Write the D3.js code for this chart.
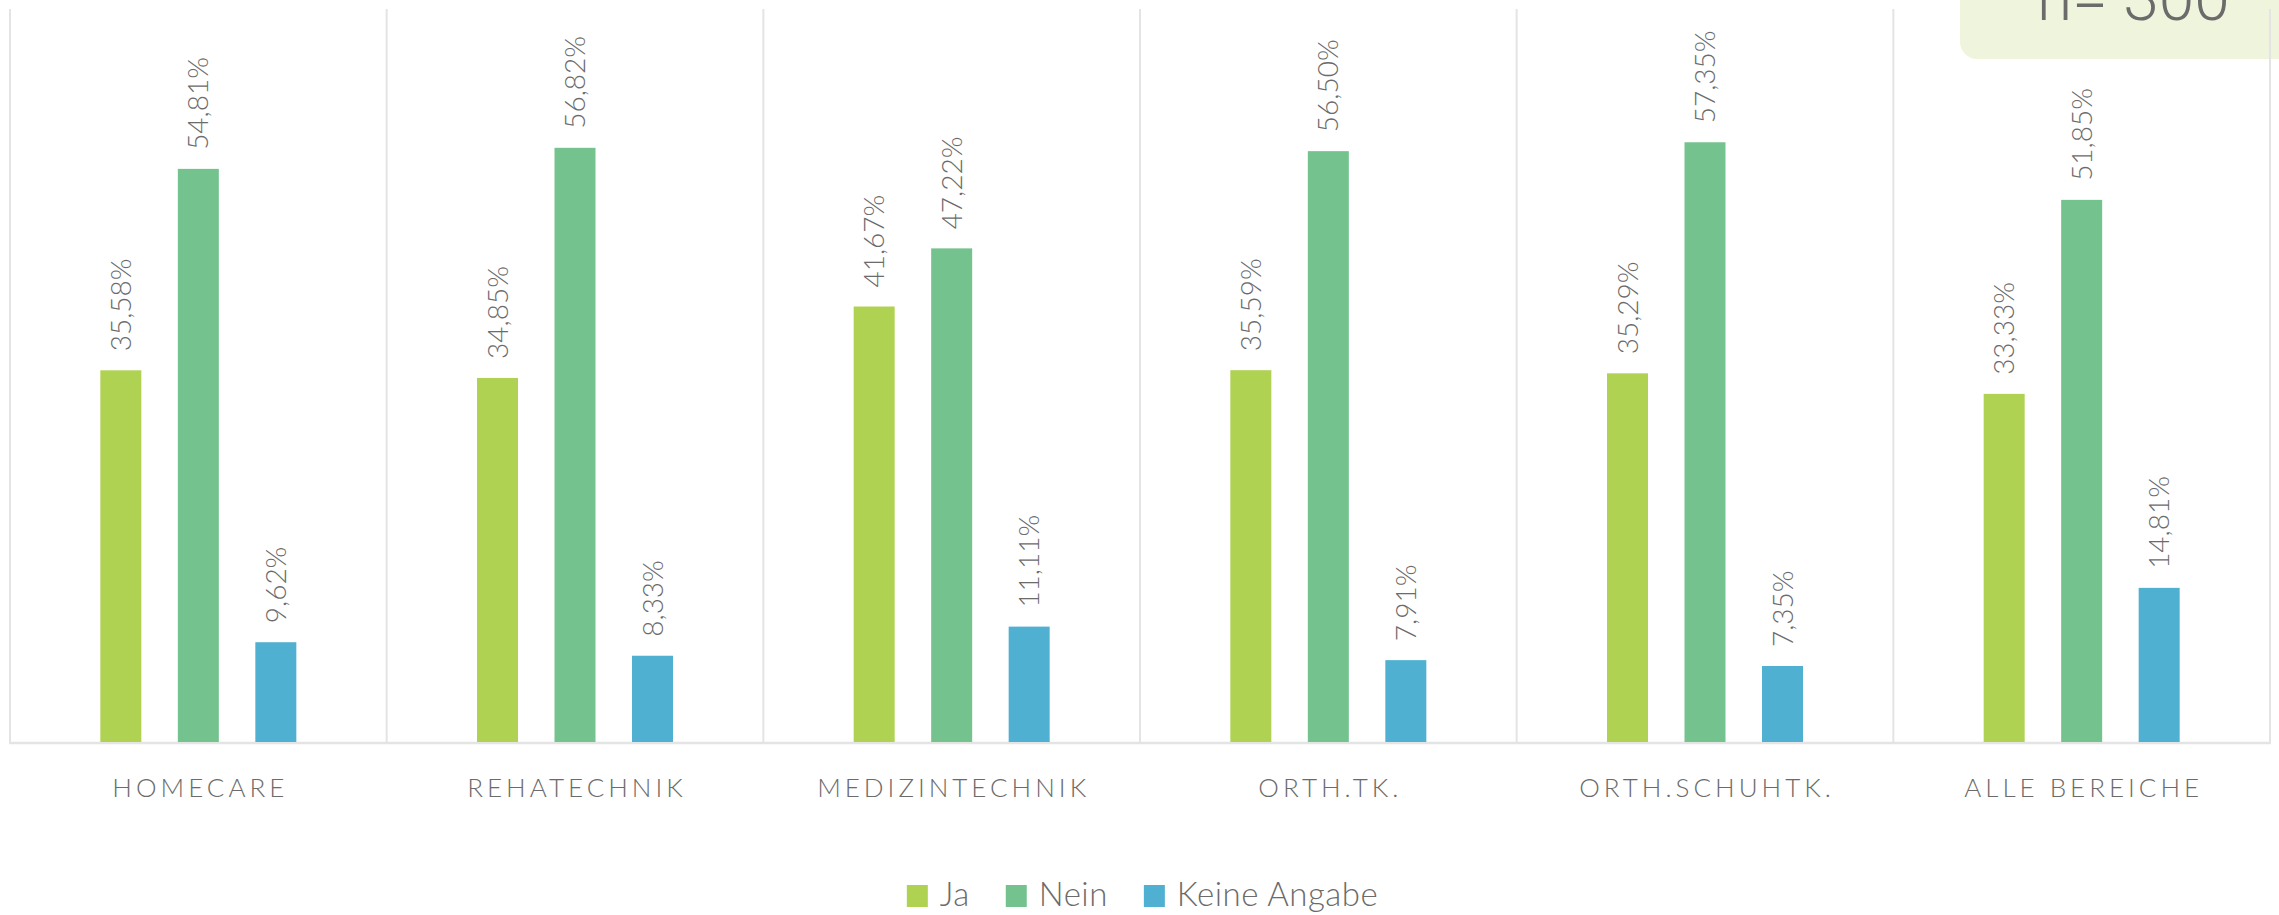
<!DOCTYPE html>
<html>
<head>
<meta charset="utf-8">
<script src="https://cdn.jsdelivr.net/npm/d3@7"></script>
<style>
  html, body { margin: 0; padding: 0; background: #fff; }
  svg { display: block; }
</style>
</head>
<body>
<svg id="chart" width="2279" height="915"></svg>
<script>
// Bereiche (x axis categories)
const categories = ["HOMECARE", "REHATECHNIK", "MEDIZINTECHNIK", "ORTH.TK.", "ORTH.SCHUHTK.", "ALLE BEREICHE"];
// Antwortoptionen
const seriesNames = ["Ja", "Nein", "Keine Angabe"];
// Anteile in Prozent je Bereich
const jaValues    = [35.58, 34.85, 41.67, 35.59, 35.29, 33.33];
const neinValues  = [54.81, 56.82, 47.22, 56.50, 57.35, 51.85];
const keineValues = [9.62, 8.33, 11.11, 7.91, 7.35, 14.81];
const sampleLabel = "n= 300";

const seriesValues = [jaValues, neinValues, keineValues];
const colors = ["#b0d253", "#74c38e", "#50b0d1"];
const textColor = "#6b6b6b";
const gridColor = "#e4e4e4";
const labelFont = "Lato, 'Open Sans', sans-serif";

const svg = d3.select("#chart");

const plot = { left: 10, right: 2270, top: 9, bottom: 743 };

const x0 = d3.scaleBand()
  .domain(categories)
  .range([plot.left, plot.right])
  .paddingInner(0).paddingOuter(0);

const bw = x0.bandwidth();
const groupHalf = 116.25;
const x1 = d3.scaleBand()
  .domain(seriesNames)
  .range([bw / 2 - groupHalf, bw / 2 + groupHalf])
  .paddingInner(0.471)
  .paddingOuter(0.2355);

const y = d3.scaleLinear().domain([0, 70]).range([plot.bottom, plot.bottom - 70 * 10.475]);

const fmt = v => d3.format(".2f")(v).replace(".", ",") + "%";

// sample size badge in the top right corner
svg.append("rect")
  .attr("x", 1960).attr("y", -40)
  .attr("width", 360).attr("height", 99)
  .attr("rx", 17).attr("ry", 17)
  .attr("fill", "#eff5dc");

svg.append("text")
  .attr("x", 2037).attr("y", 20)
  .attr("font-family", "Roboto, sans-serif")
  .attr("font-weight", 300)
  .attr("font-size", 64)
  .attr("fill", textColor)
  .text(sampleLabel);

// category separators
const bounds = categories.map(c => x0(c)).concat([plot.right]);
svg.append("g").selectAll("line")
  .data(bounds)
  .join("line")
  .attr("x1", d => d).attr("x2", d => d)
  .attr("y1", plot.top).attr("y2", plot.bottom)
  .attr("stroke", gridColor).attr("stroke-width", 2);

// baseline
svg.append("line")
  .attr("x1", plot.left - 1).attr("x2", plot.right + 1)
  .attr("y1", plot.bottom).attr("y2", plot.bottom)
  .attr("stroke", gridColor).attr("stroke-width", 2.5);

// bars and value labels
const rows = categories.map((c, i) => ({
  cat: c,
  items: seriesNames.map((s, j) => ({ s, j, v: seriesValues[j][i] }))
}));

const groups = svg.append("g").selectAll("g")
  .data(rows)
  .join("g")
  .attr("transform", d => `translate(${x0(d.cat)},0)`);

groups.selectAll("rect")
  .data(d => d.items)
  .join("rect")
  .attr("x", d => x1(d.s))
  .attr("width", x1.bandwidth())
  .attr("y", d => y(d.v))
  .attr("height", d => y(0) - y(d.v) - 1)
  .attr("fill", d => colors[d.j]);

groups.selectAll("text")
  .data(d => d.items)
  .join("text")
  .attr("transform", d => `translate(${x1(d.s) + x1.bandwidth() / 2 + 10},${y(d.v) - 19}) rotate(-90)`)
  .attr("text-anchor", "start")
  .attr("font-family", labelFont)
  .attr("font-weight", 300)
  .attr("font-size", 28)
  .attr("fill", textColor)
  .text(d => fmt(d.v));

// category axis labels
svg.append("g").selectAll("text")
  .data(categories)
  .join("text")
  .attr("x", d => x0(d) + bw / 2 + 2)
  .attr("y", 797)
  .attr("text-anchor", "middle")
  .attr("font-family", labelFont)
  .attr("font-weight", 300)
  .attr("font-size", 26)
  .attr("letter-spacing", "4px")
  .attr("fill", textColor)
  .text(d => d);

// legend, centred below the chart
const legend = svg.append("g");
const items = legend.selectAll("g")
  .data(seriesNames)
  .join("g");
items.append("rect")
  .attr("width", 21).attr("height", 22)
  .attr("y", 885)
  .attr("fill", (d, i) => colors[i]);
items.append("text")
  .attr("x", 33).attr("y", 906)
  .attr("font-family", labelFont)
  .attr("font-weight", 300)
  .attr("font-size", 33)
  .attr("letter-spacing", "0.5px")
  .attr("fill", textColor)
  .text(d => d);

let cursor = 0;
const offsets = [];
items.each(function () {
  const w = 33 + d3.select(this).select("text").node().getComputedTextLength();
  offsets.push(cursor);
  cursor += w + 36;
});
const total = cursor - 36;
const start = 2279 / 2 - total / 2 + 3;
items.attr("transform", (d, i) => `translate(${start + offsets[i]},0)`);
</script>
</body>
</html>
